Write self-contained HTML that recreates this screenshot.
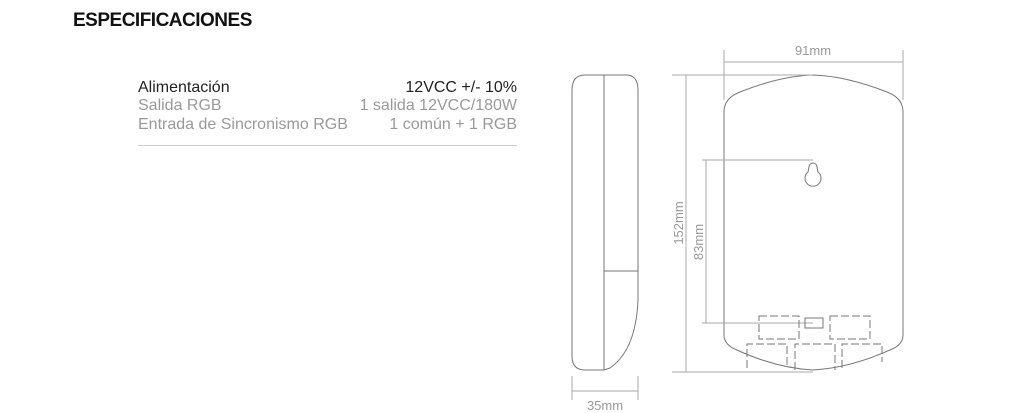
<!DOCTYPE html>
<html><head><style>
body{margin:0;width:1024px;height:413px;background:#fff;overflow:hidden;position:relative;font-family:"Liberation Sans",sans-serif}
h1{position:absolute;left:73px;top:10px;margin:0;font-size:19px;font-weight:bold;color:#111;letter-spacing:-0.5px}
.row{position:absolute;left:138px;width:379px;font-size:16px;display:flex;justify-content:space-between;line-height:18px}
.hr{position:absolute;left:138px;width:379px;top:145px;height:1px;background:#ccc}
</style></head><body>
<h1>ESPECIFICACIONES</h1>
<div class="row" style="top:79px;color:#222"><span>Alimentación</span><span>12VCC +/- 10%</span></div>
<div class="row" style="top:97px;color:#999"><span>Salida RGB</span><span>1 salida 12VCC/180W</span></div>
<div class="row" style="top:116px;color:#999"><span>Entrada de Sincronismo RGB</span><span>1 común + 1 RGB</span></div>
<div class="hr"></div>
<svg width="1024" height="413" style="position:absolute;left:0;top:0" fill="none" stroke="#777" stroke-width="1">
<path d="M585 75 H626 Q638 75 638 90 V300 Q636 350 610 368 L604 370 H585 Q572 370 572 356 V90 Q572 75 585 75Z"/>
<path d="M604 75 V370 M604 271 H638"/>
<g stroke="#aaa"><path d="M572 376 V400 M638 376 V400 M572 391 H638"/></g>
<path d="M724 112 Q724 98 740 92 Q780 76 813 75 Q846 76 887 92 Q903 98 903 112 V335 Q903 345 890 350 Q850 368 813 370 Q776 368 737 350 Q724 345 724 335Z"/>
<g stroke="#aaa">
<path d="M724 50 V100 M903 50 V100 M724 62 H903"/>
<path d="M672 75 H813 M672 372 H813 M686 75 V372"/>
<path d="M702 160 H813 M702 323 H813 M706 160 V323"/>
</g>
<path d="M809 167 A4 4 0 0 1 817 167 L818 172 A8 8 0 1 1 808 172Z"/>
<g stroke-dasharray="8 3">
<rect x="759" y="316" width="40" height="23"/>
<rect x="805" y="318" width="18" height="10" stroke-dasharray="none"/>
<rect x="830" y="316" width="40" height="23"/>
<path d="M747 368 V344 H787 V368 M795 370 V344 H835 V370 M842 368 V344 H882 V362"/>
</g>
<g fill="#999" stroke="none" font-family="Liberation Sans,sans-serif" font-size="13">
<text x="813" y="55" text-anchor="middle">91mm</text>
<text x="605" y="410" text-anchor="middle">35mm</text>
<text transform="translate(683 223) rotate(-90)" text-anchor="middle">152mm</text>
<text transform="translate(703 242) rotate(-90)" text-anchor="middle">83mm</text>
</g>
</svg>
</body></html>
